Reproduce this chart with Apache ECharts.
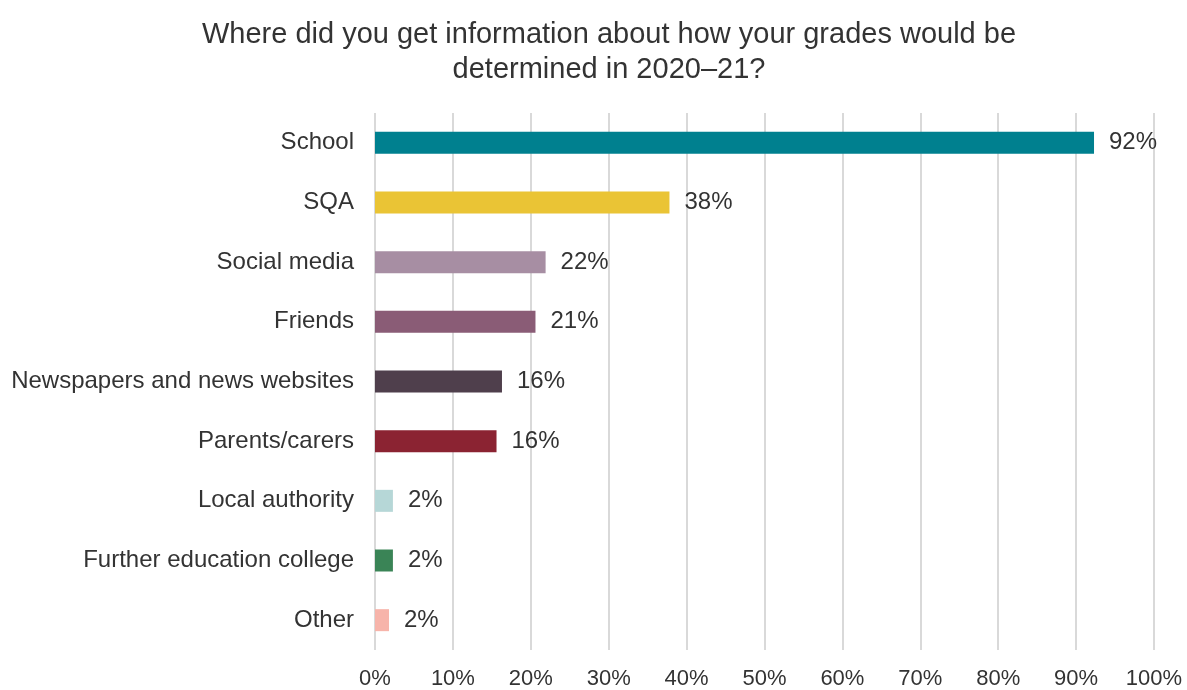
<!DOCTYPE html>
<html>
<head>
<meta charset="utf-8">
<script src="https://cdn.jsdelivr.net/npm/echarts@6/dist/echarts.min.js"></script>
<style>
  html, body { margin: 0; padding: 0; background: #ffffff; }
  #chart { width: 1187px; height: 690px; }
</style>
</head>
<body>
<div id="chart"></div>
<script>
// Sources of information about how grades were determined (share of respondents, %)
const categories = [
  'School', 'SQA', 'Social media', 'Friends', 'Newspapers and news websites',
  'Parents/carers', 'Local authority', 'Further education college', 'Other'
];
const values = [92.3, 37.8, 21.9, 20.6, 16.3, 15.6, 2.3, 2.3, 1.8];
const barColors = [
  '#00808f', '#eac435', '#a78ea3', '#8a5c76', '#4f3f4c',
  '#8b2332', '#b6d7d7', '#3a8456', '#f7b4aa'
];
const xTicks = [0, 10, 20, 30, 40, 50, 60, 70, 80, 90, 100];

const font = '"Liberation Sans", Arial, sans-serif';
const chart = echarts.init(document.getElementById('chart'));

chart.setOption({
  animation: false,
  backgroundColor: '#ffffff',
  title: {
    text: 'Where did you get information about how your grades would be\ndetermined in 2020\u201321?',
    left: 604,
    top: 12,
    textAlign: 'center',
    textStyle: { fontFamily: font, fontSize: 29, fontWeight: 'normal', color: '#333333', lineHeight: 35 }
  },
  grid: { left: 375, right: 33, top: 113, bottom: 38, containLabel: false },
  xAxis: {
    type: 'value',
    min: xTicks[0],
    max: xTicks[xTicks.length - 1],
    interval: 10,
    axisLine: { show: false },
    axisTick: { show: false },
    splitLine: { show: true, lineStyle: { color: '#d9d9d9', width: 2 } },
    axisLabel: {
      margin: 18,
      fontFamily: font, fontSize: 22, color: '#333333',
      formatter: v => v + '%'
    }
  },
  yAxis: {
    type: 'category',
    data: categories,
    inverse: true,
    axisLine: { show: false },
    axisTick: { show: false },
    splitLine: { show: false },
    axisLabel: { margin: 21, fontFamily: font, fontSize: 24, color: '#333333' }
  },
  series: [{
    type: 'bar',
    barWidth: 22,
    data: values.map((v, i) => ({ value: v, itemStyle: { color: barColors[i] } })),
    label: {
      show: true,
      position: 'right',
      distance: 15,
      fontFamily: font, fontSize: 24, color: '#333333',
      formatter: p => Math.round(p.value) + '%'
    }
  }]
});
</script>
</body>
</html>
